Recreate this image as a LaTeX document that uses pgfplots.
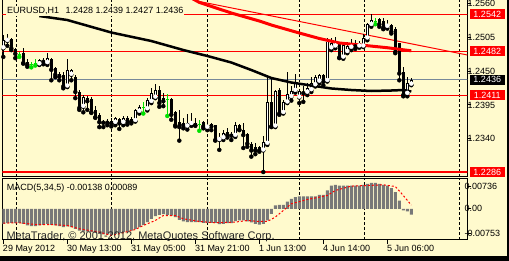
\documentclass[border=0pt]{standalone}
\usepackage{pgfplots}
\pgfplotsset{compat=1.18}
\usepackage{pgfplotstable}
\usepackage{fontspec}
\setmainfont{Liberation Sans}
\definecolor{bg}{RGB}{255,250,205}
\definecolor{mtgreen}{RGB}{0,225,0}
\definecolor{bidgray}{RGB}{119,136,153}
\definecolor{histgray}{RGB}{120,120,120}
\definecolor{mtred}{RGB}{255,0,0}

\pgfplotstableread{
x o h l c
0 1.2487 1.2509 1.2473 1.2500
1 1.2499 1.2510 1.2491 1.2503
9 1.2461 1.2470 1.2460 1.2468
11 1.2463 1.2479 1.2460 1.2471
16 1.2425 1.2470 1.2424 1.2452
17 1.2444 1.2453 1.2435 1.2452
20 1.2392 1.2411 1.2383 1.2408
28 1.2366 1.2376 1.2362 1.2373
30 1.2366 1.2377 1.2362 1.2373
33 1.2369 1.2388 1.2368 1.2387
34 1.2384 1.2395 1.2381 1.2392
36 1.2388 1.2406 1.2386 1.2403
37 1.2400 1.2422 1.2398 1.2414
38 1.2407 1.2429 1.2406 1.2420
46 1.2360 1.2381 1.2355 1.2366
47 1.2364 1.2382 1.2361 1.2368
51 1.2358 1.2367 1.2354 1.2362
54 1.2338 1.2349 1.2322 1.2343
55 1.2341 1.2354 1.2338 1.2350
58 1.2345 1.2368 1.2343 1.2362
65 1.2321 1.2345 1.2286 1.2334
66 1.2332 1.2441 1.2330 1.2400
68 1.2360 1.2420 1.2359 1.2418
70 1.2382 1.2403 1.2381 1.2399
71 1.2399 1.2449 1.2398 1.2413
72 1.2408 1.2425 1.2402 1.2418
73 1.2418 1.2446 1.2415 1.2432
74 1.2407 1.2420 1.2398 1.2418
76 1.2415 1.2430 1.2411 1.2422
77 1.2419 1.2441 1.2416 1.2430
78 1.2427 1.2444 1.2425 1.2441
79 1.2433 1.2446 1.2430 1.2444
81 1.2434 1.2503 1.2433 1.2498
82 1.2487 1.2503 1.2484 1.2495
83 1.2490 1.2506 1.2487 1.2499
85 1.2472 1.2497 1.2470 1.2492
86 1.2481 1.2498 1.2479 1.2490
87 1.2488 1.2502 1.2484 1.2495
89 1.2490 1.2499 1.2488 1.2495
90 1.2490 1.2511 1.2489 1.2504
91 1.2503 1.2528 1.2500 1.2526
92 1.2525 1.2542 1.2522 1.2533
96 1.2522 1.2533 1.2519 1.2526
101 1.2413 1.2441 1.2409 1.2430
102 1.2428 1.2439 1.2427 1.2436
}\bull

\pgfplotstableread{
x o h l c
2 1.2502 1.2504 1.2484 1.2487
3 1.2486 1.2487 1.2471 1.2478
5 1.2479 1.2487 1.2462 1.2463
6 1.2465 1.2470 1.2457 1.2460
10 1.2466 1.2472 1.2461 1.2465
12 1.2470 1.2472 1.2435 1.2452
13 1.2455 1.2457 1.2440 1.2444
14 1.2445 1.2449 1.2435 1.2441
15 1.2444 1.2449 1.2422 1.2425
18 1.2440 1.2444 1.2406 1.2416
19 1.2416 1.2419 1.2387 1.2390
21 1.2406 1.2410 1.2387 1.2401
22 1.2405 1.2408 1.2382 1.2383
23 1.2387 1.2393 1.2374 1.2375
24 1.2379 1.2382 1.2359 1.2367
25 1.2368 1.2371 1.2359 1.2366
26 1.2369 1.2372 1.2362 1.2366
27 1.2369 1.2374 1.2360 1.2365
29 1.2372 1.2373 1.2356 1.2365
31 1.2374 1.2377 1.2363 1.2368
32 1.2372 1.2376 1.2365 1.2368
39 1.2419 1.2426 1.2392 1.2398
40 1.2406 1.2414 1.2393 1.2401
42 1.2405 1.2406 1.2371 1.2379
43 1.2384 1.2385 1.2360 1.2362
44 1.2368 1.2387 1.2337 1.2359
45 1.2365 1.2373 1.2357 1.2362
48 1.2366 1.2373 1.2361 1.2362
50 1.2368 1.2369 1.2357 1.2360
52 1.2364 1.2366 1.2354 1.2360
53 1.2362 1.2363 1.2337 1.2338
56 1.2351 1.2357 1.2342 1.2346
57 1.2348 1.2351 1.2338 1.2345
59 1.2363 1.2364 1.2354 1.2355
60 1.2355 1.2365 1.2325 1.2346
61 1.2348 1.2349 1.2327 1.2332
62 1.2332 1.2335 1.2311 1.2321
63 1.2327 1.2333 1.2315 1.2321
64 1.2327 1.2328 1.2319 1.2321
67 1.2400 1.2438 1.2359 1.2360
69 1.2419 1.2422 1.2379 1.2381
75 1.2416 1.2425 1.2400 1.2414
80 1.2444 1.2446 1.2427 1.2433
84 1.2494 1.2498 1.2471 1.2472
88 1.2493 1.2500 1.2486 1.2490
94 1.2534 1.2536 1.2522 1.2526
95 1.2531 1.2536 1.2518 1.2520
97 1.2525 1.2526 1.2511 1.2514
98 1.2519 1.2522 1.2479 1.2481
99 1.2495 1.2496 1.2435 1.2446
100 1.2449 1.2457 1.2409 1.2411
}\bear

\pgfplotstableread{
x o h l c
4 1.2477 1.2481 1.2473 1.2477
7 1.2461 1.2465 1.2456 1.2461
8 1.2463 1.2470 1.2459 1.2463
35 1.2391 1.2399 1.2381 1.2391
41 1.2404 1.2413 1.2377 1.2404
49 1.2363 1.2371 1.2353 1.2363
93 1.2531 1.2536 1.2526 1.2531
}\doji

\pgfplotstableread{
x m
0 -0.00362
1 -0.00345
2 -0.00338
3 -0.00345
4 -0.00338
5 -0.00362
6 -0.00403
7 -0.00417
8 -0.00417
9 -0.00403
10 -0.00386
11 -0.00362
12 -0.00386
13 -0.00403
14 -0.00417
15 -0.00442
16 -0.00427
17 -0.00442
18 -0.00483
19 -0.00524
20 -0.00548
21 -0.00548
22 -0.00562
23 -0.00579
24 -0.00603
25 -0.00620
26 -0.00620
27 -0.00627
28 -0.00603
29 -0.00579
30 -0.00562
31 -0.00548
32 -0.00524
33 -0.00483
34 -0.00442
35 -0.00386
36 -0.00321
37 -0.00241
38 -0.00176
39 -0.00145
40 -0.00128
41 -0.00145
42 -0.00162
43 -0.00200
44 -0.00265
45 -0.00306
46 -0.00321
47 -0.00321
48 -0.00321
49 -0.00321
50 -0.00338
51 -0.00338
52 -0.00338
53 -0.00338
54 -0.00369
55 -0.00362
56 -0.00345
57 -0.00345
58 -0.00297
59 -0.00282
60 -0.00282
61 -0.00306
62 -0.00330
63 -0.00362
64 -0.00379
65 -0.00362
66 -0.00282
67 -0.00121
68 0.00080
69 0.00097
70 0.00097
71 0.00176
72 0.00241
73 0.00282
74 0.00297
75 0.00297
76 0.00297
77 0.00297
78 0.00300
79 0.00338
80 0.00338
81 0.00442
82 0.00562
83 0.00579
84 0.00562
85 0.00562
86 0.00562
87 0.00562
88 0.00562
89 0.00562
90 0.00579
91 0.00603
92 0.00627
93 0.00627
94 0.00603
95 0.00579
96 0.00562
97 0.00500
98 0.00403
99 0.00200
100 -0.00041
101 -0.00065
102 -0.00138
}\macd

\begin{document}
\begin{tikzpicture}[x=1pt,y=1pt]
\useasboundingbox (0pt,0pt) rectangle (509pt,-261pt);
\fill[bg] (0pt,0pt) rectangle (509pt,-261pt);

\begin{axis}[
  at={(2.3pt,-176.7pt)}, anchor=south west, scale only axis,
  width=465pt, height=177.3pt,
  xmin=-0.25, xmax=116, ymin=1.22784, ymax=1.25664,
  axis line style={black, line width=1pt},
  xtick=\empty,
  extra x ticks={3.2,27,51,74,90.25,114}, extra x tick labels={},
  extra x tick style={grid=major, tick style={draw=none}},
  major grid style={black, line width=0.8pt, dash pattern=on 3pt off 2pt},
  ytick={1.2340,1.2395,1.2450,1.2505,1.2560},
  yticklabels={1.2340,1.2395,1.2450,1.2505,1.2560},
  ytick pos=right, yticklabel pos=right, tick align=outside, major tick length=4pt,
  ytick style={black, line width=1pt},
  yticklabel style={font=\fontsize{9}{10}\selectfont, anchor=west, inner sep=0pt, xshift=-4pt},
]
% horizontal lines (behind the candles)
\addplot[draw=mtred, line width=1.1pt] coordinates {(-1,1.2542) (117,1.2542)};
\addplot[draw=mtred, line width=1.1pt] coordinates {(-1,1.2482) (117,1.2482)};
\addplot[draw=mtred, line width=1.1pt] coordinates {(-1,1.2411) (117,1.2411)};
\addplot[draw=mtred, line width=1.1pt] coordinates {(-1,1.2286) (117,1.2286)};
\addplot[draw=bidgray, line width=1pt] coordinates {(-1,1.2436) (117,1.2436)};
% trend line
\addplot[draw=mtred, line width=1pt] coordinates {(48,1.25643) (116,1.24761)};
% wicks
\addplot[black, only marks, mark=none, error bars/.cd, y dir=plus, y explicit, error mark=none,
  error bar style={black, line width=1pt}] table[x=x, y=l, y error plus expr=\thisrow{h}-\thisrow{l}] {\bull};
\addplot[black, only marks, mark=none, error bars/.cd, y dir=plus, y explicit, error mark=none,
  error bar style={black, line width=1pt}] table[x=x, y=l, y error plus expr=\thisrow{h}-\thisrow{l}] {\bear};
\addplot[mtgreen, only marks, mark=none, error bars/.cd, y dir=plus, y explicit, error mark=none,
  error bar style={mtgreen, line width=1pt}] table[x=x, y=l, y error plus expr=\thisrow{h}-\thisrow{l}] {\doji};
% bodies
\addplot[black, only marks, mark=none, error bars/.cd, y dir=plus, y explicit, error mark=none,
  error bar style={black, line width=3pt}] table[x=x, y=c, y error plus expr=\thisrow{o}-\thisrow{c}] {\bear};
\addplot[black, only marks, mark=none, error bars/.cd, y dir=plus, y explicit, error mark=none,
  error bar style={black, line width=3.4pt}] table[x=x, y=o, y error plus expr=\thisrow{c}-\thisrow{o}] {\bull};
\addplot[white, only marks, mark=none, error bars/.cd, y dir=plus, y explicit, error mark=none,
  error bar style={white, line width=1.4pt}] table[x=x, y expr=\thisrow{o}+0.00016, y error plus expr=\thisrow{c}-\thisrow{o}-0.00032] {\bull};
\addplot[mtgreen, only marks, mark=-, mark size=1.6pt, mark options={line width=1pt}] table[x=x, y=c] {\doji};
% moving averages
\addplot[black, line width=2.5pt] coordinates {(9,1.25394) (16,1.25329) (27,1.25126) (37,1.24988) (45,1.24842) (51,1.24745) (57,1.24639) (62,1.24517) (67,1.24387) (72,1.24314) (77,1.24265) (82,1.24217) (87,1.24192) (92,1.24176) (97,1.24184) (100,1.24192) (102,1.24168)};
\addplot[draw=mtred, line width=3pt] coordinates {(47,1.25686) (49,1.25615) (57,1.25443) (64,1.25313) (67,1.25248) (74,1.25118) (79,1.25029) (84,1.24956) (91,1.24912) (96,1.24879) (102,1.24829)};
\coordinate (r2542) at (axis cs:116,1.2542);
\coordinate (r2482) at (axis cs:116,1.2482);
\coordinate (r2411) at (axis cs:116,1.2411);
\coordinate (r2286) at (axis cs:116,1.2286);
\coordinate (r2436) at (axis cs:116,1.2436);
\end{axis}

\begin{axis}[
  at={(2.3pt,-240pt)}, anchor=south west, scale only axis,
  width=465pt, height=61.7pt,
  xmin=-0.25, xmax=116, ymin=-0.00753, ymax=0.00736,
  axis line style={black, line width=1pt},
  xtick={0,16,32,48,64,80,96},
  xticklabels={29 May 2012,30 May 13:00,31 May 05:00,31 May 21:00,1 Jun 13:00,4 Jun 14:00,5 Jun 06:00},
  xtick pos=bottom, tick align=outside, major tick length=4pt,
  xtick style={black, line width=1pt},
  xticklabel style={font=\fontsize{9}{10}\selectfont, anchor=north west, inner sep=0pt, xshift=-0.5pt, yshift=-1.5pt},
  extra x ticks={3.2,27,51,74,90.25,114}, extra x tick labels={},
  extra x tick style={grid=major, tick style={draw=none}},
  major grid style={black, line width=0.8pt, dash pattern=on 3pt off 2pt},
  ytick={0.0055,0,-0.0060}, yticklabels={0.00736,0.00,-0.00753},
  scaled y ticks=false,
  ytick pos=right, yticklabel pos=right,
  ytick style={black, line width=1pt},
  yticklabel style={font=\fontsize{9}{10}\selectfont, anchor=west, inner sep=0pt, xshift=-7pt},
]
\addplot[ybar, bar width=3pt, fill=histgray, draw=none] table[x=x, y=m] {\macd};
\addplot[draw=mtred, line width=1pt, dash pattern=on 2pt off 2pt] coordinates {(0,-0.00345) (4,-0.00338) (8,-0.00379) (12,-0.00379) (16,-0.00403) (19,-0.00483) (24,-0.00562) (27,-0.00644) (29,-0.00603) (33,-0.00500) (35,-0.00403) (38,-0.00282) (40,-0.00162) (43,-0.00162) (45,-0.00241) (49,-0.00306) (53,-0.00338) (58,-0.00321) (61,-0.00282) (64,-0.00306) (66,-0.00306) (68,-0.00200) (70,-0.00041) (72,0.00121) (76,0.00224) (81,0.00321) (83,0.00442) (87,0.00548) (91,0.00562) (95,0.00579) (98,0.00538) (100,0.00321) (102,0.00089)};
\end{axis}

\node[anchor=base west, fill=bg, inner xsep=1pt, inner ysep=1.5pt, font=\fontsize{9}{10}\selectfont] at (6pt,-13.3pt) {EURUSD,H1\hspace{4pt} 1.2428 1.2439 1.2427 1.2436};
\node[anchor=base west, inner sep=0pt, font=\fontsize{9}{10}\selectfont] at (6.7pt,-191pt) {MACD(5,34,5) -0.00138 0.00089};
\node[anchor=base west, inner sep=0pt, text=black!85, font=\fontsize{11}{12}\selectfont] at (6.3pt,-239.2pt) {MetaTrader, © 2001-2012, MetaQuotes Software Corp.};

\foreach \c/\t in {r2542/1.2542, r2482/1.2482, r2411/1.2411, r2286/1.2286}
  \node[fill=mtred, text=white, anchor=west, inner sep=0pt, minimum width=34.5pt, minimum height=10pt, font=\fontsize{9}{10}\selectfont] at ([xshift=2.5pt]\c) {\t};
\node[fill=black, text=white, anchor=west, inner sep=0pt, minimum width=34.5pt, minimum height=10pt, font=\fontsize{9}{10}\selectfont] at ([xshift=2.5pt]r2436) {1.2436};

\fill[black] (0pt,-256pt) rectangle (509pt,-261pt);
\fill[black] (507pt,0pt) rectangle (509pt,-261pt);
\end{tikzpicture}
\end{document}
